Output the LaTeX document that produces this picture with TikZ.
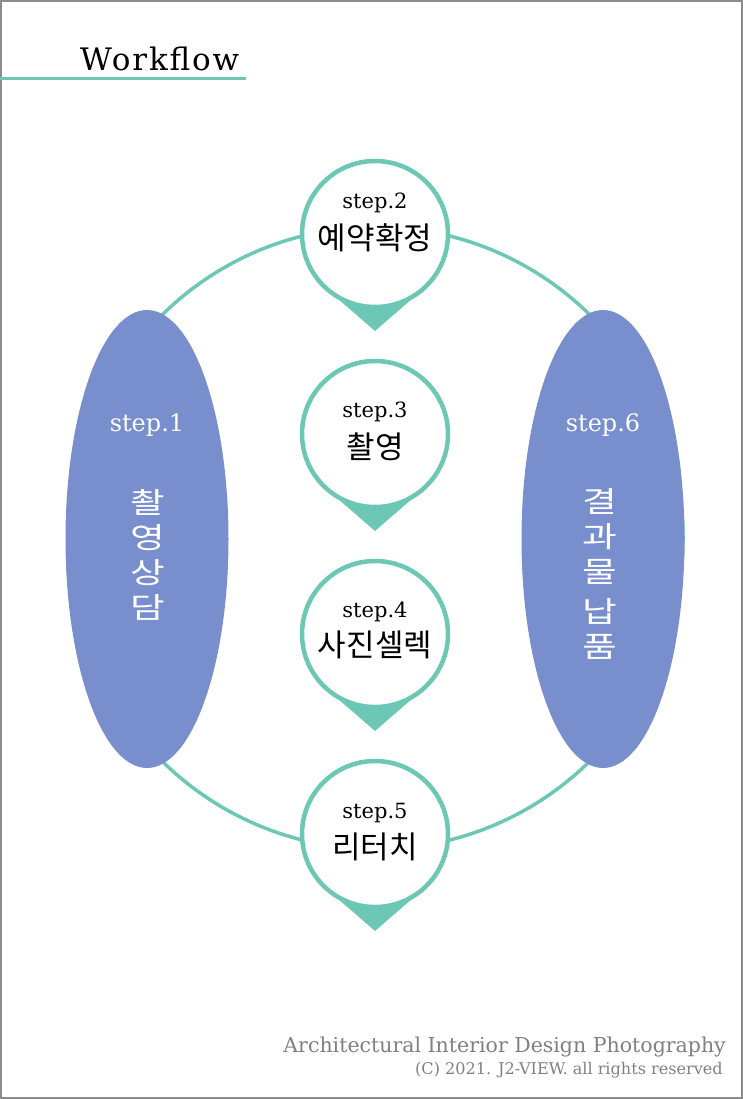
\documentclass[tikz,border=0pt]{standalone}
\usepackage{fontspec}
\usepackage{tikz}
\usetikzlibrary{shapes.geometric, positioning, calc}

\newfontfamily\kofont{Noto Sans CJK KR}
\newfontfamily\kowide[FakeStretch=1.3]{Noto Sans CJK KR}
\newfontfamily\slabfont{DejaVu Serif}
\newfontfamily\titlefont[LetterSpace=6]{DejaVu Serif}

\definecolor{ringteal}{RGB}{108,200,180}
\definecolor{ovalblue}{RGB}{121,142,204}
\definecolor{footgray}{RGB}{128,128,128}
\definecolor{framegray}{RGB}{140,140,140}

\begin{document}
\begin{tikzpicture}[x=1pt, y=-1pt,
  pin/.style={circle, draw=ringteal, line width=4.5pt, fill=white,
              minimum size=146pt, inner sep=0pt},
  oval/.style={ellipse, fill=ovalblue, minimum width=163pt,
               minimum height=458pt, inner sep=0pt},
  steptxt/.style={font=\slabfont\fontsize{21}{23}\selectfont},
  kotxt/.style={font=\kofont\fontsize{31}{34}\selectfont},
  ovalstep/.style={text=white, font=\slabfont\fontsize{24}{26}\selectfont},
  ovalko/.style={text=white, align=center, inner sep=0pt,
                 font=\kowide\fontsize{29}{35}\selectfont},
  foottxt/.style={anchor=base east, inner sep=0pt, text=footgray}]
  \useasboundingbox (0,0) rectangle (743,1099);
  % page frame
  \draw[framegray, line width=2pt] (1,1) rectangle (742,1098);

  % title with underline
  \node[anchor=base west, inner sep=0pt, font=\titlefont\fontsize{31}{34}\selectfont]
    (title) at (80,71) {Workflow};
  \draw[ringteal, line width=3pt] (0,79) -- (246,79);

  % big ring behind everything
  \coordinate (mid) at (376,538);
  \draw[ringteal, line width=3.5pt] (mid) ellipse[x radius=307, y radius=311];

  % step 1 and step 6 ovals
  \node[oval] (s1) at (147,539) {};
  \node[oval] (s6) at (603,539) {};
  \node[ovalstep] (t1) at (147,425) {step.1};
  \node[ovalstep] (t6) at (603,425) {step.6};
  \node[ovalko] (v1) at (148,555) {촬\\영\\상\\담};
  \node[ovalko] (v6) at (600,574) {결\\과\\물\\[5pt]납\\품};

  % pins for steps 2..5 (pointer first, circle on top)
  \foreach \n/\y in {2/234, 3/434, 4/634, 5/834} {
    \fill[ringteal] (337,{\y+64}) -- (375,{\y+97}) -- (413,{\y+64}) -- cycle;
    \node[pin] (s\n) at (375,\y) {};
  }

  % pin labels
  \node[steptxt] (l2) at (375,203) {step.2};
  \node[kotxt]   (k2) at (375,238) {예약확정};
  \node[steptxt] (l3) at (375,412) {step.3};
  \node[kotxt]   (k3) at (375,447) {촬영};
  \node[steptxt] (l4) at (375,612) {step.4};
  \node[kotxt]   (k4) at (375,645) {사진셀렉};
  \node[steptxt] (l5) at (375,813) {step.5};
  \node[kotxt]   (k5) at (375,847) {리터치};

  % footer
  \node[foottxt, font=\slabfont\fontsize{20.5}{23}\selectfont]
    (foot1) at (726,1052) {Architectural Interior Design Photography};
  \node[foottxt, font=\slabfont\fontsize{16.1}{19}\selectfont]
    (foot2) at (723,1074) {(C) 2021. J2-VIEW. all rights reserved};
\end{tikzpicture}
\end{document}
